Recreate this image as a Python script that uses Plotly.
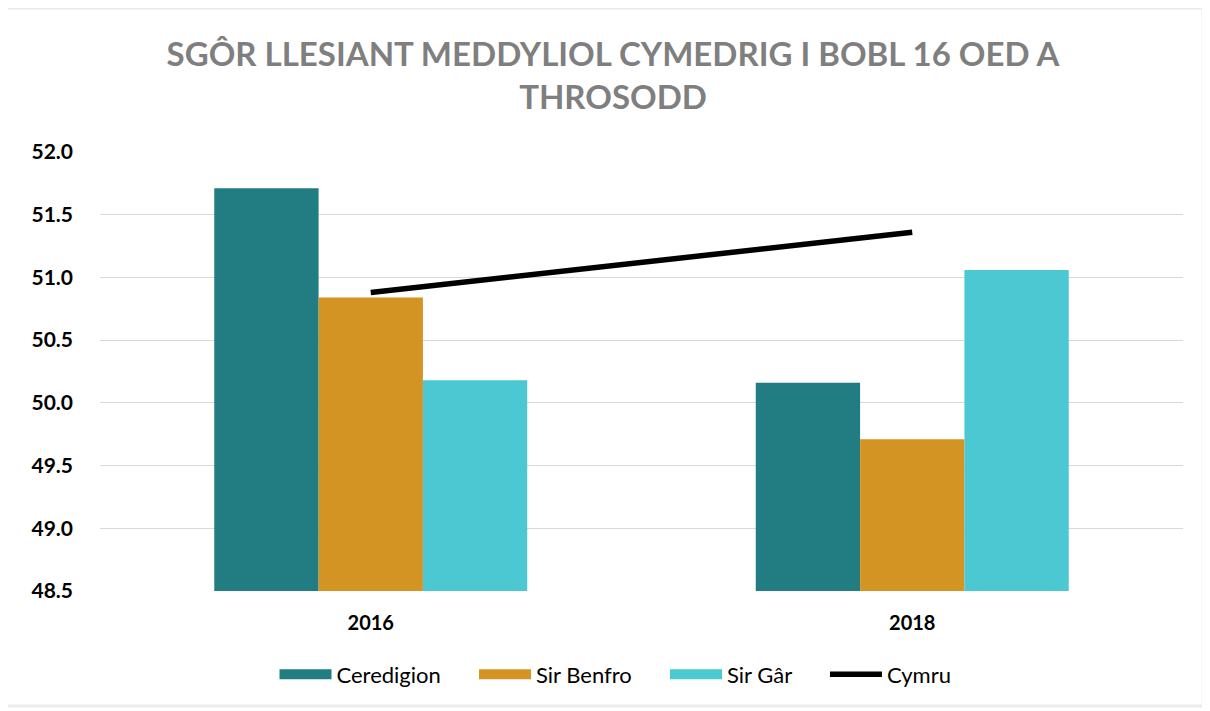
import plotly.graph_objects as go

years = ["2016", "2018"]
ceredigion = [51.71, 50.16]
sir_benfro = [50.84, 49.71]
sir_gar = [50.18, 51.06]
cymru = [50.88, 51.36]
series_names = ["Ceredigion", "Sir Benfro", "Sir Gâr", "Cymru"]
colors = ["#217D82", "#D39424", "#4BC8D1", "#000000"]
y_ticks = [48.5, 49.0, 49.5, 50.0, 50.5, 51.0, 51.5, 52.0]

pad = "\u00a0" * 5
fig = go.Figure()
for name, vals, col in zip(series_names[:3], [ceredigion, sir_benfro, sir_gar], colors[:3]):
    fig.add_trace(go.Bar(x=years, y=vals, name=name, marker_color=col,
                         marker_line_width=0, showlegend=False))
    fig.add_trace(go.Scatter(x=[None], y=[None], mode="lines", name=name + pad,
                             line=dict(color=col, width=15), showlegend=True))
fig.add_trace(go.Scatter(x=years, y=cymru, mode="lines", name=series_names[3],
                         line=dict(color=colors[3], width=5.5)))

fig.update_layout(
    width=1210, height=711,
    paper_bgcolor="white", plot_bgcolor="white",
    margin=dict(l=92, r=35, t=144, b=128),
    barmode="group", bargap=0.422, bargroupgap=0,
    title=dict(text="SGÔR LLESIANT MEDDYLIOL CYMEDRIG I BOBL 16 OED A<br>THROSODD",
               x=0.5, xanchor="center", y=0.918, yanchor="middle",
               font=dict(family="Lato", size=33, color="#7F7F7F", weight="bold")),
    font=dict(family="Lato", color="#000000"),
    xaxis=dict(tickfont=dict(size=20, weight="bold", color="#000"), showgrid=False,
               showline=False, ticks="", ticklabelstandoff=18),
    yaxis=dict(range=[48.5, 52.0], tickvals=y_ticks, tickformat=".1f",
               tickfont=dict(size=21, weight="bold", color="#000"),
               showgrid=True, gridcolor="#D9D9D9", gridwidth=1, zeroline=False,
               showline=False, ticks="", ticklabelstandoff=26),
    legend=dict(orientation="h", x=0.476, xanchor="center", y=-0.19, yanchor="middle",
                font=dict(size=22, color="#000"), itemwidth=52, traceorder="normal"),
    shapes=[dict(type="rect", xref="paper", yref="paper",
                 x0=-0.0877, x1=1.0185, y0=-0.262, y1=1.328,
                 line=dict(color="#EBEBEB", width=3), fillcolor="rgba(0,0,0,0)",
                 layer="below")],
)

fig.write_html("out.html")
